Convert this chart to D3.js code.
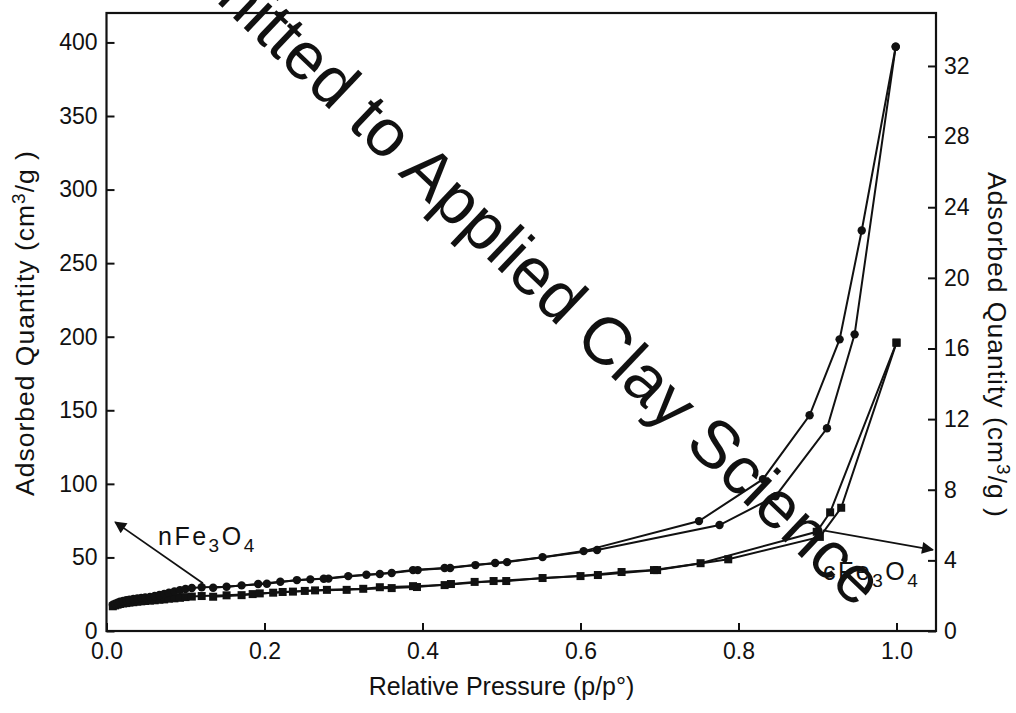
<!DOCTYPE html>
<html>
<head>
<meta charset="utf-8">
<script src="https://cdn.jsdelivr.net/npm/d3@7"></script>
<style>
  html, body { margin: 0; padding: 0; background: #fff; }
  svg { display: block; }
  text { font-family: Arial, "Liberation Sans", Helvetica, sans-serif; fill: #111; }
</style>
</head>
<body>
<svg id="chart" width="1016" height="713"></svg>
<script>
// ---------------- DATA ----------------
// nFe3O4 (circles), left axis, cm3/g
const nAdsP = [0.008,0.011,0.014,0.017,0.021,0.025,0.029,0.034,0.039,0.044,0.049,0.055,0.061,0.067,0.073,0.079,0.086,0.093,0.100,0.108,0.1205,0.152,0.192,0.220,0.258,0.281,0.329,0.361,0.394,0.435,0.467,0.507,0.621,0.776,0.847,0.912,0.947,0.999];
const nAdsQ = [17.8,18.6,19.3,19.9,20.4,20.9,21.3,21.7,22.1,22.5,22.8,23.2,23.8,24.5,25.2,26.0,26.9,27.8,28.5,29.2,29.7,30.1,31.9,33.5,35.1,35.6,38.2,39.4,41.4,42.8,44.8,46.8,55.0,72.0,91.6,137.8,201.6,397.1];
const nDesP = [0.999,0.956,0.928,0.890,0.831,0.750,0.604,0.552,0.492,0.428,0.388,0.346,0.306,0.275,0.241,0.203,0.171,0.135];
const nDesQ = [397.1,272.2,198.2,146.6,103.2,74.7,54.3,50.2,46.2,42.8,41.4,38.7,37.3,35.5,34.6,32.1,31.0,29.4];

// cFe3O4 (squares), right axis, cm3/g
const cAdsP = [0.008,0.011,0.014,0.017,0.021,0.025,0.029,0.034,0.039,0.044,0.049,0.055,0.061,0.067,0.073,0.079,0.086,0.093,0.100,0.108,0.1205,0.152,0.185,0.211,0.236,0.264,0.304,0.361,0.393,0.436,0.466,0.506,0.552,0.622,0.697,0.787,0.903,0.930,1.0];
const cAdsQ = [1.40,1.45,1.49,1.53,1.56,1.58,1.61,1.63,1.66,1.68,1.70,1.72,1.74,1.77,1.79,1.83,1.85,1.88,1.92,1.95,1.98,2.02,2.09,2.17,2.23,2.30,2.33,2.43,2.49,2.66,2.78,2.83,3.00,3.17,3.45,4.06,5.33,6.98,16.33];
const cDesP = [1.0,0.916,0.899,0.752,0.693,0.652,0.600,0.490,0.428,0.388,0.346,0.325,0.279,0.251,0.223,0.194,0.171,0.135];
const cDesQ = [16.33,6.72,5.62,3.84,3.45,3.34,3.11,2.83,2.60,2.54,2.48,2.39,2.33,2.27,2.21,2.13,2.03,1.94];

const xTicks = [0.0,0.2,0.4,0.6,0.8,1.0];
const yLeftTicks = [0,50,100,150,200,250,300,350,400];
const yRightTicks = [0,4,8,12,16,20,24,28,32];

const xTitle = "Relative Pressure (p/p°)";
const yTitleMain = "Adsorbed Quantity (cm";
const yTitleSup = "3";
const yTitleEnd = "/g )";
const watermark = "Submitted to Applied Clay Science";

// ---------------- CHART ----------------
const svg = d3.select("#chart");
const L = 106.5, R = 936, T = 13, B = 631;

const x = d3.scaleLinear().domain([0, 1.05]).range([L, R]);
const yL = d3.scaleLinear().domain([0, 420]).range([B, T]);
const yR = d3.scaleLinear().domain([0, 35]).range([B, T]);

const tickFont = "23px";

// axes
const gx = svg.append("g").attr("transform", `translate(0,${B})`)
  .call(d3.axisBottom(x).tickValues(xTicks).tickFormat(d3.format(".1f")).tickSizeInner(-8).tickSizeOuter(0).tickPadding(12));
const gyl = svg.append("g").attr("transform", `translate(${L},0)`)
  .call(d3.axisLeft(yL).tickValues(yLeftTicks).tickSizeInner(-8).tickSizeOuter(0).tickPadding(9));
const gyr = svg.append("g").attr("transform", `translate(${R},0)`)
  .call(d3.axisRight(yR).tickValues(yRightTicks).tickSizeInner(-8).tickSizeOuter(0).tickPadding(8));
[gx, gyl, gyr].forEach(g => {
  g.select(".domain").remove();
  g.selectAll(".tick line").attr("stroke", "#111").attr("stroke-width", 2);
  g.selectAll(".tick text").style("font-size", tickFont).attr("fill", "#111")
    .style("font-family", "Arial, 'Liberation Sans', sans-serif");
});

// frame
svg.append("rect").attr("x", L).attr("y", T).attr("width", R - L).attr("height", B - T)
  .attr("fill", "none").attr("stroke", "#111").attr("stroke-width", 2.2);

// titles
svg.append("text").attr("x", x(0.5)).attr("y", 695).attr("text-anchor", "middle")
  .style("font-size", "25px").text(xTitle);

function yTitle(transform) {
  const t = svg.append("text").attr("transform", transform).attr("text-anchor", "middle")
    .style("font-size", "26.5px").style("letter-spacing", "1px");
  t.append("tspan").text(yTitleMain);
  t.append("tspan").attr("dy", -9).style("font-size", "19px").text(yTitleSup);
  t.append("tspan").attr("dy", 9).text(yTitleEnd);
}
yTitle(`translate(34,${(T + B) / 2 + 1}) rotate(-90)`);
yTitle(`translate(988,345) rotate(90)`);

// series
function drawSeries(P, Q, yScale, shape) {
  const pts = P.map((p, i) => [p, Q[i]]);
  const line = d3.line().x(d => x(d[0])).y(d => yScale(d[1]));
  svg.append("path").datum(pts).attr("d", line).attr("fill", "none")
    .attr("stroke", "#111").attr("stroke-width", 2);
  if (shape === "circle") {
    svg.append("g").selectAll("circle").data(pts).join("circle")
      .attr("cx", d => x(d[0])).attr("cy", d => yScale(d[1])).attr("r", 4.2).attr("fill", "#111");
  } else {
    const s = 8;
    svg.append("g").selectAll("rect").data(pts).join("rect")
      .attr("x", d => x(d[0]) - s / 2).attr("y", d => yScale(d[1]) - s / 2)
      .attr("width", s).attr("height", s).attr("fill", "#111");
  }
}
drawSeries(cAdsP, cAdsQ, yR, "square");
drawSeries(cDesP, cDesQ, yR, "square");
drawSeries(nAdsP, nAdsQ, yL, "circle");
drawSeries(nDesP, nDesQ, yL, "circle");

// arrows
const defs = svg.append("defs");
defs.append("marker").attr("id", "arr").attr("viewBox", "0 0 10 10").attr("refX", 9).attr("refY", 5)
  .attr("markerWidth", 18).attr("markerHeight", 12).attr("markerUnits", "userSpaceOnUse").attr("orient", "auto")
  .append("path").attr("d", "M0,0 L10,5 L0,10 Z").attr("fill", "#111");

// nFe3O4 arrow: from the circle curve toward the left axis
svg.append("line").attr("x1", x(0.122)).attr("y1", yL(32.5)).attr("x2", x(0.011)).attr("y2", yL(74))
  .attr("stroke", "#111").attr("stroke-width", 1.8).attr("marker-end", "url(#arr)");
// cFe3O4 arrow: from the square curve toward the right axis
svg.append("line").attr("x1", x(0.907)).attr("y1", yR(5.7)).attr("x2", x(1.046)).attr("y2", yR(4.6))
  .attr("stroke", "#111").attr("stroke-width", 1.8).attr("marker-end", "url(#arr)");

// labels
function chemLabel(px, py, prefix) {
  const t = svg.append("text").attr("x", px).attr("y", py).style("font-size", "25px")
    .style("letter-spacing", "2.5px");
  t.append("tspan").text(prefix + "Fe");
  t.append("tspan").attr("dy", 7).style("font-size", "19px").text("3");
  t.append("tspan").attr("dy", -7).text("O");
  t.append("tspan").attr("dy", 7).style("font-size", "19px").text("4");
}
chemLabel(158, 545, "n");
chemLabel(823, 580, "c");

// watermark
svg.append("text").attr("transform", "translate(485,257) rotate(43.5)").attr("text-anchor", "middle")
  .style("font-size", "67px").attr("fill", "#000").text(watermark);
</script>
</body>
</html>
